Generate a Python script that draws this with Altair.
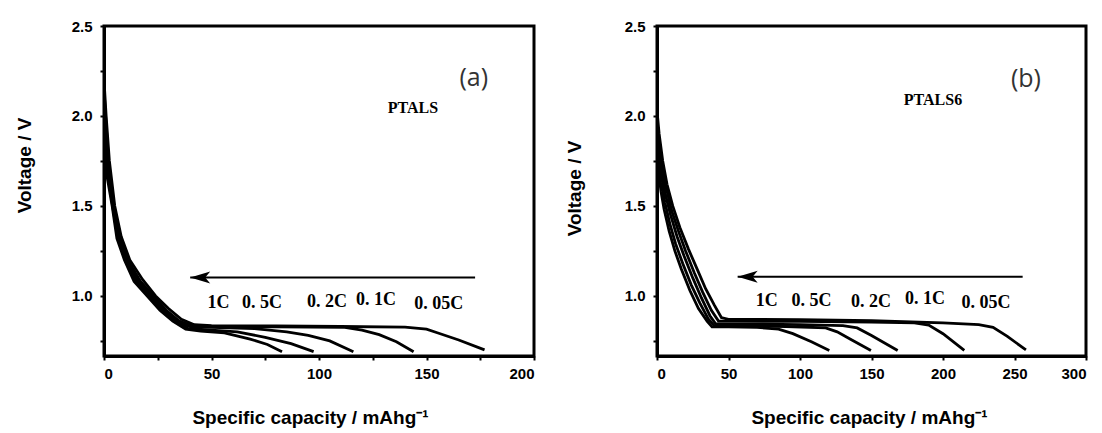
import altair as alt
import pandas as pd

rates = ["1C", "0.5C", "0.2C", "0.1C", "0.05C"]

# ---------------- Panel (a): PTALS ----------------
a_cap_1C = [0, 0.6, 1.6, 3.8, 6, 9.5, 14, 20, 26, 32, 38, 45, 56, 68, 76, 82.8]
a_v_1C = [2.0, 1.85, 1.65, 1.5, 1.32, 1.2, 1.08, 1.0, 0.92, 0.86, 0.815, 0.805, 0.795, 0.76, 0.73, 0.69]
a_cap_05C = [0, 0.7, 1.8, 4, 6.5, 10, 15, 21, 27, 33, 39, 50, 62, 75, 87, 97.5]
a_v_05C = [2.05, 1.88, 1.68, 1.5, 1.32, 1.2, 1.08, 1.0, 0.92, 0.86, 0.82, 0.81, 0.8, 0.77, 0.735, 0.69]
a_cap_02C = [0, 0.8, 2, 4.2, 7, 10.5, 16, 22, 28, 34, 40, 50, 70, 85, 95, 105, 116]
a_v_02C = [2.1, 1.9, 1.7, 1.5, 1.32, 1.2, 1.08, 1.0, 0.92, 0.86, 0.83, 0.825, 0.818, 0.8, 0.78, 0.75, 0.69]
a_cap_01C = [0, 1, 2.3, 4.5, 7.5, 11, 17, 23, 29, 35, 41, 50, 80, 112, 120, 128, 136, 144]
a_v_01C = [2.15, 1.95, 1.72, 1.5, 1.32, 1.2, 1.08, 1.0, 0.92, 0.86, 0.835, 0.83, 0.828, 0.825, 0.81, 0.785, 0.745, 0.69]
a_cap_005C = [0, 1, 2.5, 5, 8, 12, 18, 24, 30, 36, 42, 50, 80, 110, 140, 150, 155, 165, 177]
a_v_005C = [2.2, 2.0, 1.75, 1.5, 1.33, 1.2, 1.09, 1.0, 0.93, 0.87, 0.84, 0.835, 0.833, 0.83, 0.826, 0.815, 0.795, 0.755, 0.70]

# ---------------- Panel (b): PTALS6 ----------------
b_cap_1C = [0, 0.9, 2.8, 5, 8.5, 12.5, 17, 23, 29, 35, 38.5, 50, 70, 85, 95, 108, 120.5]
b_v_1C = [1.83, 1.7, 1.58, 1.48, 1.36, 1.25, 1.15, 1.03, 0.93, 0.86, 0.828, 0.828, 0.825, 0.815, 0.79, 0.745, 0.697]
b_cap_05C = [0, 1, 3, 5.5, 9, 13, 18, 24, 30, 36, 40, 50, 90, 118, 126, 135, 149.6]
b_v_05C = [1.88, 1.75, 1.63, 1.52, 1.4, 1.29, 1.18, 1.06, 0.96, 0.87, 0.835, 0.835, 0.83, 0.822, 0.8, 0.76, 0.697]
b_cap_02C = [0, 1.2, 3.2, 6, 9.5, 14, 19, 25, 31, 37, 41, 50, 100, 130, 140, 150, 168.3]
b_v_02C = [1.93, 1.8, 1.68, 1.56, 1.45, 1.33, 1.22, 1.1, 0.99, 0.89, 0.845, 0.845, 0.84, 0.835, 0.822, 0.78, 0.697]
b_cap_01C = [0, 1.3, 3.5, 6.5, 10, 15, 20, 26, 32, 38, 43, 50, 100, 150, 180, 190, 200, 214.9]
b_v_01C = [1.98, 1.85, 1.72, 1.6, 1.48, 1.36, 1.25, 1.13, 1.02, 0.92, 0.86, 0.86, 0.858, 0.855, 0.85, 0.838, 0.79, 0.697]
b_cap_005C = [0, 1.5, 4, 7, 11, 16, 22, 28, 34, 40, 45, 50, 100, 150, 200, 225, 235, 245, 258]
b_v_005C = [2.03, 1.9, 1.75, 1.62, 1.5, 1.38, 1.26, 1.15, 1.04, 0.95, 0.88, 0.87, 0.868, 0.862, 0.85, 0.84, 0.825, 0.775, 0.70]

# ---------------- Annotations ----------------
rate_texts = ["1C", "0. 5C", "0. 2C", "0. 1C", "0. 05C"]
a_label_cap = [53.3, 73.5, 103.7, 126.5, 155.7]
a_label_v = [0.963, 0.963, 0.966, 0.98, 0.955]
b_label_cap = [76.7, 108, 149.6, 187.4, 230]
b_label_v = [0.97, 0.97, 0.968, 0.983, 0.96]

a_arrow = {"x0": 172.6, "x1": 40.1, "v": 1.102}
b_arrow = {"x0": 255.7, "x1": 56.4, "v": 1.106}

a_name = {"text": "PTALS", "cap": 143.7, "v": 2.044}
b_name = {"text": "PTALS6", "cap": 193.0, "v": 2.087}
a_tag = {"text": "(a)", "cap": 172.0, "v": 2.21}
b_tag = {"text": "(b)", "cap": 258.0, "v": 2.205}

XTITLE = "Specific capacity / mAhg\u207b\u00b9"
YTITLE = "Voltage / V"


def curves_df(caps, volts):
    rows = []
    for rate, c, v in zip(rates, caps, volts):
        for i, (ci, vi) in enumerate(zip(c, v)):
            rows.append({"rate": rate, "cap": ci, "v": vi, "i": i})
    return pd.DataFrame(rows)


def panel(caps, volts, xmax, xticks, lab_cap, lab_v, arrow, name, tag, width, title_y, title_x, ytp):
    df = curves_df(caps, volts)
    xs = alt.Scale(domain=[0, xmax], nice=False, zero=False)
    ys = alt.Scale(domain=[0.666, 2.5], nice=False, zero=False)
    xaxis = alt.Axis(
        values=xticks,
        labelExpr="datum.value % 50 == 0 ? datum.label : ''",
        title=XTITLE, titlePadding=27, labelPadding=6, titleX=title_x,
    )
    yaxis = alt.Axis(
        values=[0.75, 1.0, 1.25, 1.5, 1.75, 2.0, 2.25, 2.5],
        labelExpr="(round(datum.value * 100) % 50 == 0) ? format(datum.value, '.1f') : ''",
        title=YTITLE, titlePadding=ytp, labelPadding=8, titleY=title_y,
    )
    lines = alt.Chart(df).mark_line(color="black", strokeWidth=2.8, clip=True).encode(
        x=alt.X("cap:Q", scale=xs, axis=xaxis),
        y=alt.Y("v:Q", scale=ys, axis=yaxis),
        detail="rate:N",
        order="i:Q",
    )
    lab_df = pd.DataFrame({"t": rate_texts, "cap": lab_cap, "v": lab_v})
    labels = alt.Chart(lab_df).mark_text(
        font="Liberation Serif", fontWeight="bold", fontSize=18, color="black",
        align="center", baseline="middle",
    ).encode(x=alt.X("cap:Q", scale=xs), y=alt.Y("v:Q", scale=ys), text="t:N")

    ar_df = pd.DataFrame({"x0": [arrow["x0"]], "x1": [arrow["x1"]], "v": [arrow["v"]]})
    rule = alt.Chart(ar_df).mark_rule(color="black", strokeWidth=2).encode(
        x=alt.X("x0:Q", scale=xs), x2="x1:Q", y=alt.Y("v:Q", scale=ys)
    )
    head = alt.Chart(ar_df).mark_point(
        shape="M0,0 L2,-0.6 L1.5,0 L2,0.6 Z", filled=True, color="black", size=400, opacity=1,
    ).encode(x=alt.X("x1:Q", scale=xs), y=alt.Y("v:Q", scale=ys))

    nm_df = pd.DataFrame({"t": [name["text"]], "cap": [name["cap"]], "v": [name["v"]]})
    nm = alt.Chart(nm_df).mark_text(
        font="Liberation Serif", fontWeight="bold", fontSize=16, color="black",
        align="center", baseline="middle",
    ).encode(x=alt.X("cap:Q", scale=xs), y=alt.Y("v:Q", scale=ys), text="t:N")

    tg_df = pd.DataFrame({"t": [tag["text"]], "cap": [tag["cap"]], "v": [tag["v"]]})
    tg = alt.Chart(tg_df).mark_text(
        font="Open Sans", fontSize=25, color="#333333",
        align="center", baseline="middle",
    ).encode(x=alt.X("cap:Q", scale=xs), y=alt.Y("v:Q", scale=ys), text="t:N")

    return alt.layer(lines, rule, head, labels, nm, tg).properties(width=width, height=330)


pa = panel(
    [a_cap_1C, a_cap_05C, a_cap_02C, a_cap_01C, a_cap_005C],
    [a_v_1C, a_v_05C, a_v_02C, a_v_01C, a_v_005C],
    200, list(range(0, 201, 25)), a_label_cap, a_label_v, a_arrow, a_name, a_tag, 430, 139, 206, 37,
)
pb = panel(
    [b_cap_1C, b_cap_05C, b_cap_02C, b_cap_01C, b_cap_005C],
    [b_v_1C, b_v_05C, b_v_02C, b_v_01C, b_v_005C],
    300, list(range(0, 301, 25)), b_label_cap, b_label_v, b_arrow, b_name, b_tag, 429, 162, 212, 40,
)

chart = alt.hconcat(pa, pb, spacing=26).properties(
    padding={"left": 5, "top": 9, "right": 0, "bottom": 0}, background="white"
).configure_view(
    stroke="black", strokeWidth=3
).configure_axis(
    grid=False, domainColor="black", domainWidth=3, tickColor="black", tickWidth=2,
    tickSize=4, labelFont="Liberation Sans", labelFontWeight="bold", labelFontSize=15,
    labelColor="black", titleFont="Liberation Sans", titleFontWeight="bold",
    titleFontSize=19, titleColor="black",
).configure_axisY(titleFontSize=19)

chart.save("out.html", embed_options={"renderer": "svg", "actions": False})
